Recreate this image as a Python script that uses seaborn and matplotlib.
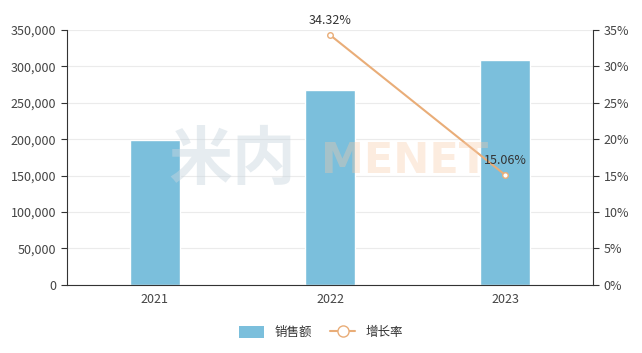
import numpy as np
import pandas as pd
import matplotlib
matplotlib.use("Agg")
import matplotlib.pyplot as plt
import seaborn as sns
from matplotlib.lines import Line2D
from matplotlib.patches import Patch

years = ["2021", "2022", "2023"]
sales = [199500, 268000, 308300]
growth = [np.nan, 34.32, 15.06]
growth_labels = ["", "34.32%", "15.06%"]

bar_color = "#7bbfdc"
line_color = "#e9ad78"

sns.set_style("white")
plt.rcParams["font.family"] = ["Noto Sans CJK SC", "DejaVu Sans"]

data = pd.DataFrame({"year": years, "sales": sales, "growth": growth})

fig = plt.figure(figsize=(6.42, 3.53), dpi=100)
ax = fig.add_axes([0.104, 0.193, 0.82, 0.722])

# watermark, behind the bars
fig.text(0.262, 0.545, "米内", fontsize=46, fontweight="bold", color="#c9d6df",
         alpha=0.45, ha="left", va="center", zorder=0)
fig.text(0.5, 0.545, "MENET", fontsize=31, fontweight="bold", color="#f8c9a6",
         alpha=0.35, ha="left", va="center", family="DejaVu Sans", zorder=0)
ax.patch.set_alpha(0)

sns.barplot(data=data, x="year", y="sales", color=bar_color, width=0.285,
            saturation=1, ax=ax, zorder=2)
ax.set_xlim(-0.5, 2.5)
ax.set_ylim(0, 350000)
ax.set_yticks(np.arange(0, 350001, 50000))
ax.set_yticklabels([f"{v:,}" for v in range(0, 350001, 50000)])
ax.yaxis.grid(True, color="#ebebeb", linewidth=0.8, zorder=0)
ax.set_xlabel("")
ax.set_ylabel("")
ax.set_xticks([0, 1, 2])
ax.set_xticks([-0.5, 0.5, 1.5, 2.5], minor=True)
ax.tick_params(axis="x", which="major", length=0, pad=6, labelsize=9, labelcolor="#444444")
ax.tick_params(axis="x", which="minor", length=4, color="#333333", width=0.8)
ax.tick_params(axis="y", length=4, color="#333333", width=0.8, labelsize=9, labelcolor="#444444", left=True)
for s in ["top", "right"]:
    ax.spines[s].set_visible(False)
for s in ["left", "bottom"]:
    ax.spines[s].set_color("#333333")
    ax.spines[s].set_linewidth(0.8)

ax2 = ax.twinx()
line_df = data.assign(pos=[0, 1, 2]).dropna()
sns.lineplot(data=line_df, x="pos", y="growth", color=line_color, linewidth=1.5,
             marker="o", markersize=4, markerfacecolor="white",
             markeredgecolor=line_color, markeredgewidth=1, ax=ax2, zorder=3)
ax2.set_ylim(0, 35)
ax2.set_yticks(np.arange(0, 36, 5))
ax2.set_yticklabels([f"{v}%" for v in range(0, 36, 5)])
ax2.set_ylabel("")
ax2.tick_params(axis="y", length=4, color="#333333", width=0.8, labelsize=9, labelcolor="#444444", right=True)
for s in ["top", "left", "bottom"]:
    ax2.spines[s].set_visible(False)
ax2.spines["right"].set_color("#333333")
ax2.spines["right"].set_linewidth(0.8)

for i, (g, lab) in enumerate(zip(growth, growth_labels)):
    if lab:
        ax2.annotate(lab, (i, g), xytext=(0, 6), textcoords="offset points",
                     ha="center", va="bottom", fontsize=9, color="#333333")

handles = [Patch(facecolor=bar_color, edgecolor="none"),
           Line2D([0], [0], color=line_color, lw=1.5, marker="o", markersize=8,
                  markerfacecolor="white", markeredgecolor=line_color)]
fig.legend(handles, ["销售额", "增长率"], loc="center", bbox_to_anchor=(0.5, 0.058),
           ncol=2, frameon=False, fontsize=9, handlelength=2.0, handleheight=1.1,
           columnspacing=1.5, labelcolor="#333333")

fig.savefig("out.png", dpi=100)
